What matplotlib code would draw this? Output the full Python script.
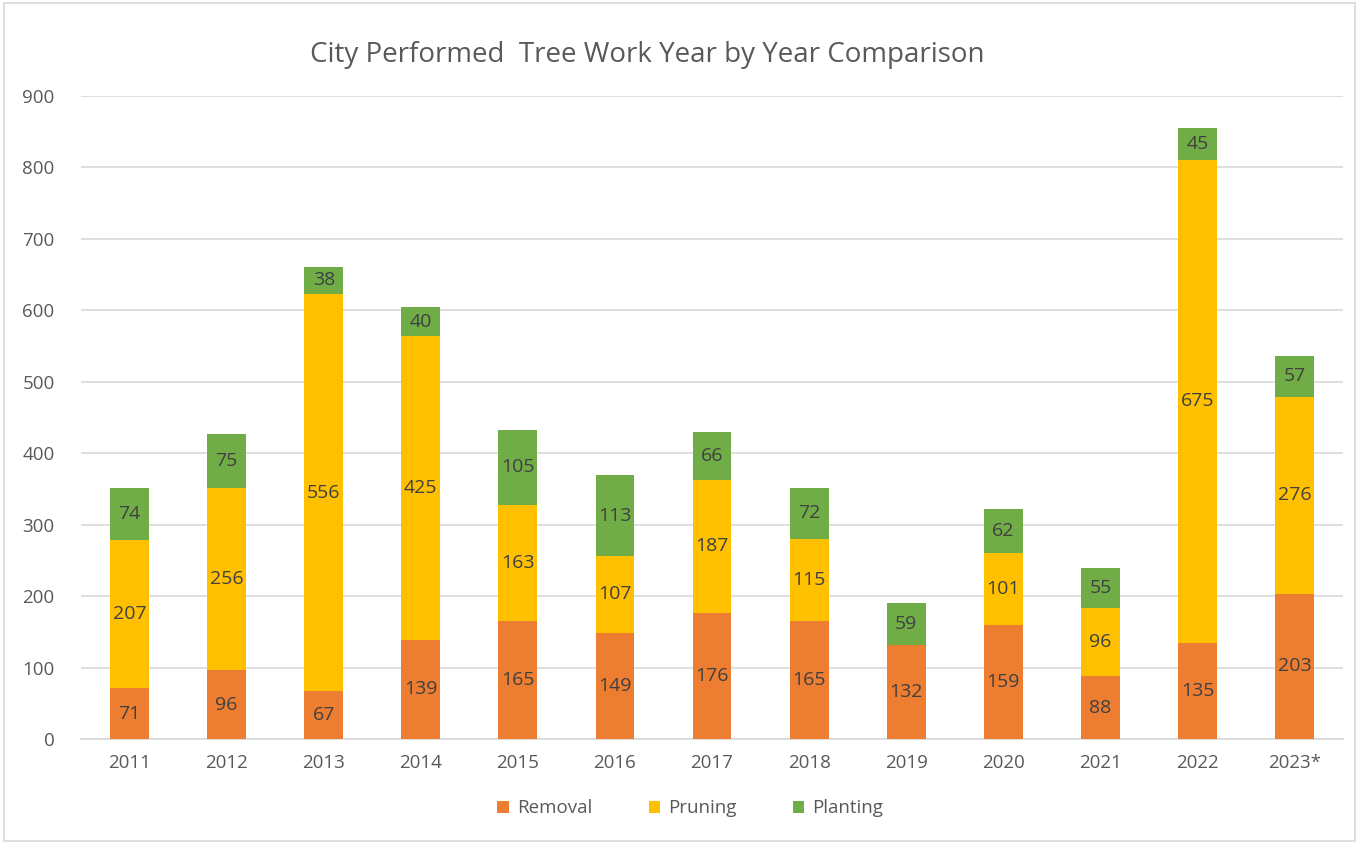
import matplotlib
matplotlib.use("Agg")
import matplotlib.pyplot as plt
from matplotlib.patches import Rectangle
import numpy as np

years = ["2011", "2012", "2013", "2014", "2015", "2016", "2017", "2018", "2019", "2020", "2021", "2022", "2023*"]
removal = [71, 96, 67, 139, 165, 149, 176, 165, 132, 159, 88, 135, 203]
pruning = [207, 256, 556, 425, 163, 107, 187, 115, 0, 101, 96, 675, 276]
planting = [74, 75, 38, 40, 105, 113, 66, 72, 59, 62, 55, 45, 57]

series = [("Removal", removal, "#ED7D31"), ("Pruning", pruning, "#FFC000"), ("Planting", planting, "#70AD47")]

plt.rcParams['font.family'] = ['Open Sans', 'DejaVu Sans']
fig = plt.figure(figsize=(13.59, 8.43), dpi=100)
fig.patches.append(Rectangle((0.003, 0.002), 0.994, 0.995, transform=fig.transFigure,
                             fill=False, edgecolor="#D9D9D9", linewidth=1.2))
ax = fig.add_axes([0.0596, 0.1234, 0.9287, 0.7627])

x = np.arange(len(years))
bottom = np.zeros(len(years))
handles = []
for name, vals, col in series:
    vals = np.array(vals, dtype=float)
    bars = ax.bar(x, vals, 0.4, bottom=bottom, color=col, label=name, zorder=3)
    handles.append(bars)
    for xi, v, b in zip(x, vals, bottom):
        if v > 0:
            ax.text(xi, b + v / 2, f"{int(v)}", ha="center", va="center",
                    fontsize=14, color="#404040", zorder=4)
    bottom += vals

ax.set_xlim(-0.5, 12.5)
ax.set_ylim(0, 900)
ax.set_yticks(range(0, 901, 100))
ax.set_xticks(x)
ax.set_xticklabels(years)
ax.yaxis.grid(True, color="#D9D9D9", linewidth=1.2, zorder=0)
ax.set_axisbelow(True)
for s in ax.spines.values():
    s.set_visible(False)
ax.spines["bottom"].set_visible(True)
ax.spines["bottom"].set_color("#D9D9D9")
ax.spines["bottom"].set_linewidth(1.2)
ax.tick_params(axis="both", length=0, labelsize=13.5, labelcolor="#595959")
ax.tick_params(axis="x", pad=11)
ax.tick_params(axis="y", pad=19)

fig.text(0.476, 0.935, "City Performed  Tree Work Year by Year Comparison", ha="center", va="center",
         fontsize=20, color="#595959")

leg = fig.legend(handles=handles, labels=[s[0] for s in series], loc="center",
                 bbox_to_anchor=(0.508, 0.041), ncol=3, frameon=False, fontsize=13.5,
                 handlelength=0.6, handleheight=0.6, columnspacing=3.0, handletextpad=0.45)
for t in leg.get_texts():
    t.set_color("#595959")

fig.savefig("out.png", dpi=100)
